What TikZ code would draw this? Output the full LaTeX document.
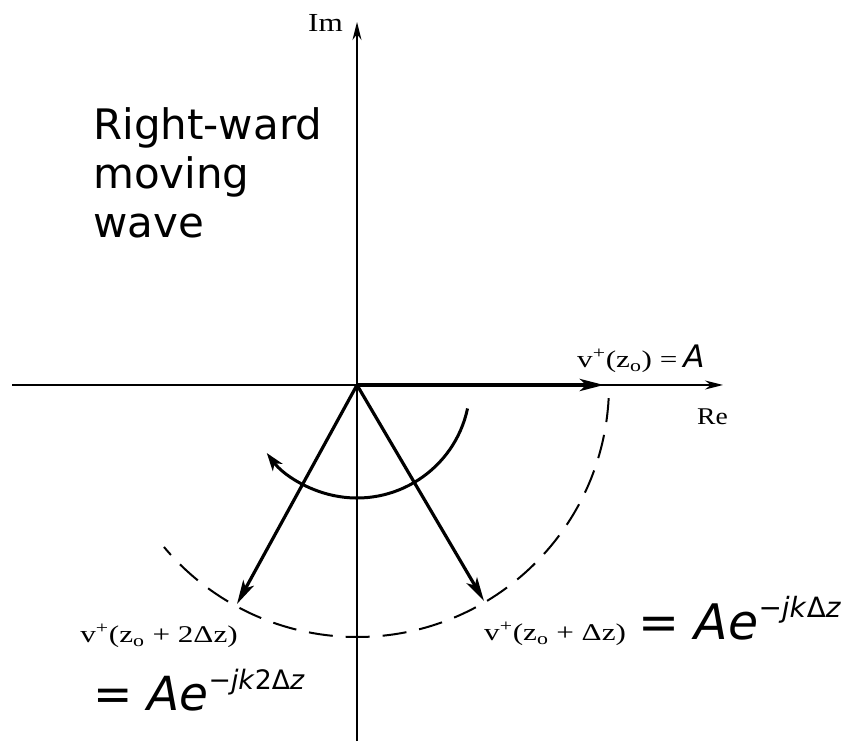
\documentclass[tikz,border=0pt]{standalone}
\usepackage{fontspec}
\usepackage{graphicx}
\setmainfont{Liberation Serif}
\newfontfamily\dv{DejaVu Sans}
\usetikzlibrary{arrows.meta}
\tikzset{
  axis/.style={line width=1.6pt,-{Stealth[length=18pt,width=9pt]}},
  vec/.style={line width=3.2pt,-{Stealth[length=24pt,width=12pt,inset=6pt]}},
  rot/.style={line width=3pt,-{Stealth[length=18pt,width=12pt,inset=5pt]}},
  dashes/.style={line width=2pt,dash pattern=on 24pt off 13pt},
  scanlbl/.style={font=\fontsize{24}{26}\selectfont,inner sep=0pt},
  biglblR/.style={font=\dv\fontsize{49}{54}\selectfont,inner sep=0pt},
  biglblL/.style={font=\dv\fontsize{47}{50}\selectfont,inner sep=0pt},
  wavetxt/.style={font=\dv\fontsize{42}{49}\selectfont,align=left,inner sep=0pt}
}
\newcommand{\bigsup}[1]{\raisebox{0.46em}{\fontsize{0.57em}{0.6em}\selectfont #1}}
\newcommand{\wide}[1]{\scalebox{1.3}[1]{#1}}
\begin{document}
\begin{tikzpicture}[x=1pt,y=1pt]
\useasboundingbox (0,0) rectangle (848,741);
\coordinate (O) at (357,356);
\coordinate (xL) at (12,356);
\coordinate (xR) at (723,356);
\coordinate (yB) at (357,0);
\coordinate (yT) at (357,719);
\coordinate (Atip) at (604,356);
\coordinate (Btip) at (484,140);
\coordinate (Ctip) at (237,137);
% axes
\draw[axis] (xL) -- (xR);
\draw[axis] (yB) -- (yT);
% vectors
\draw[vec,line width=4pt] (O) -- (Atip);
\draw[vec] (O) -- (Btip);
\draw[vec] (O) -- (Ctip);
% rotation arc
\draw[rot] (O) ++(-12:113) arc[start angle=-12, end angle=-143, radius=113];
% dashed locus
\draw[dashes] (O) ++(-3:252) arc[start angle=-3, end angle=-140, radius=252];
% labels
\node[anchor=base east,font=\fontsize{26}{28}\selectfont,inner sep=0pt] (im) at (343,709) {\scalebox{1.2}[1]{Im}};
\node[anchor=base west,font=\fontsize{24}{26}\selectfont,inner sep=0pt] (re) at (697,316) {\scalebox{1.15}[1]{Re}};
\node[anchor=base west,wavetxt] (wave) at (93,503) {Right-ward\\moving\\wave};
\node[anchor=base west,scanlbl] (vA) at (577,373) {\wide{v\textsuperscript{+}(z\textsubscript{o}) =} {\dv\itshape\fontsize{31}{33}\selectfont A}};
\node[anchor=base west,scanlbl] (vB) at (484,100) {\wide{v\textsuperscript{+}(z\textsubscript{o} + Δz)}};
\node[anchor=base west,biglblR] (eB) at (638,101) {= \textit{Ae}\bigsup{−\textit{jk}Δ\textit{z}}};
\node[anchor=base east,scanlbl] (vC) at (238,98) {\wide{v\textsuperscript{+}(z\textsubscript{o} + 2Δz)}};
\node[anchor=base west,biglblL] (eC) at (93,30) {= \textit{Ae}\bigsup{−\textit{jk}2Δ\textit{z}}};
\end{tikzpicture}
\end{document}
